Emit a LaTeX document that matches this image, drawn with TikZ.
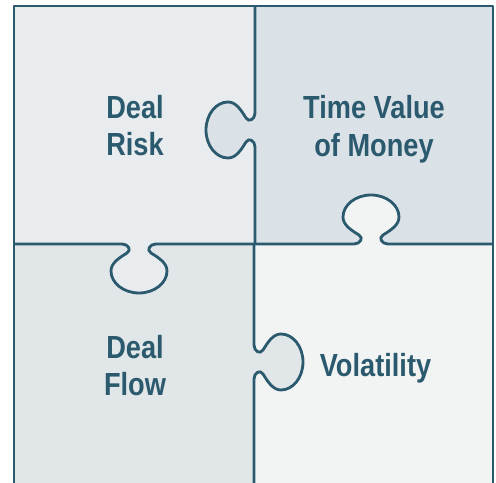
\documentclass[tikz,border=0pt]{standalone}
\usepackage{fontspec}
\setmainfont{Liberation Sans}[FakeStretch=0.85]
\definecolor{PuzzleLine}{HTML}{2B5A6E}
\definecolor{PuzzleRisk}{HTML}{E8ECEF}
\definecolor{PuzzleMoney}{HTML}{DAE2E8}
\definecolor{PuzzleFlow}{HTML}{E1E6E9}
\definecolor{PuzzleVol}{HTML}{F2F4F4}
\usepackage{tikz}
\tikzset{
    % outline of the pieces
    piece edge/.style={
        draw=PuzzleLine,
        line width=1.6pt,
        line join=round
    },
    piece label/.style={
        text=PuzzleLine,
        align=center,
        inner sep=0pt,
        font=\fontsize{18.2}{21.5}\selectfont\bfseries
    }
}
% one tab, drawn along the u axis and bulging towards +v
\newcommand{\knobpath}{(-17,0) .. controls (-11,0) and (-7,6) .. (-12,9)
    .. controls (-20,14) and (-28,19) .. (-28,27)
    .. controls (-28,39) and (-15.5,49) .. (0,49)
    .. controls (15.5,49) and (28,39) .. (28,27)
    .. controls (28,19) and (20,14) .. (12,9)
    .. controls (7,6) and (11,0) .. (17,0)}

\begin{document}
\begin{tikzpicture}[x=0.2mm, y=-0.2mm]
    \useasboundingbox (0,0) rectangle (496,483);
    \clip (0,0) rectangle (496,483);

    % piece backgrounds
    \fill[PuzzleRisk]  (14,6) rectangle (255,244);
    \fill[PuzzleMoney] (255,6) rectangle (493,244);
    \fill[PuzzleFlow]  (14,244) rectangle (254,490);
    \fill[PuzzleVol]   (254,244) rectangle (493,490);

    % tabs
    \fill[PuzzleMoney] {[shift={(255,130)}, rotate=-90] \knobpath} -- cycle;
    \fill[PuzzleVol]   {[shift={(371,244)}, yscale=-1] \knobpath} -- cycle;
    \fill[PuzzleRisk]  {[shift={(139,244)}] \knobpath} -- cycle;
    \fill[PuzzleFlow]  {[shift={(254,362)}, rotate=-90, yscale=-1] \knobpath} -- cycle;

    % outer frame
    \draw[piece edge] (14,490) -- (14,6) -- (493,6) -- (493,490);

    % cuts between the pieces
    \draw[piece edge] (255,6) {[shift={(255,130)}, rotate=-90] -- \knobpath} -- (255,244);
    \draw[piece edge] (14,244) {[shift={(139,244)}] -- \knobpath} -- (255,244)
        {[shift={(371,244)}, yscale=-1] -- \knobpath} -- (493,244);
    \draw[piece edge] (254,244) {[shift={(254,362)}, rotate=-90, yscale=-1] -- \knobpath} -- (254,490);

    % labels
    \node[piece label] (risk) at (135,125.5) {Deal\\Risk};
    \node[piece label] (money) at (374,129) {Time Value\\of Money};
    \node[piece label] (flow) at (135,365.5) {Deal\\Flow};
    \node[piece label] (vol) at (375.5,368) {Volatility};
\end{tikzpicture}
\end{document}
